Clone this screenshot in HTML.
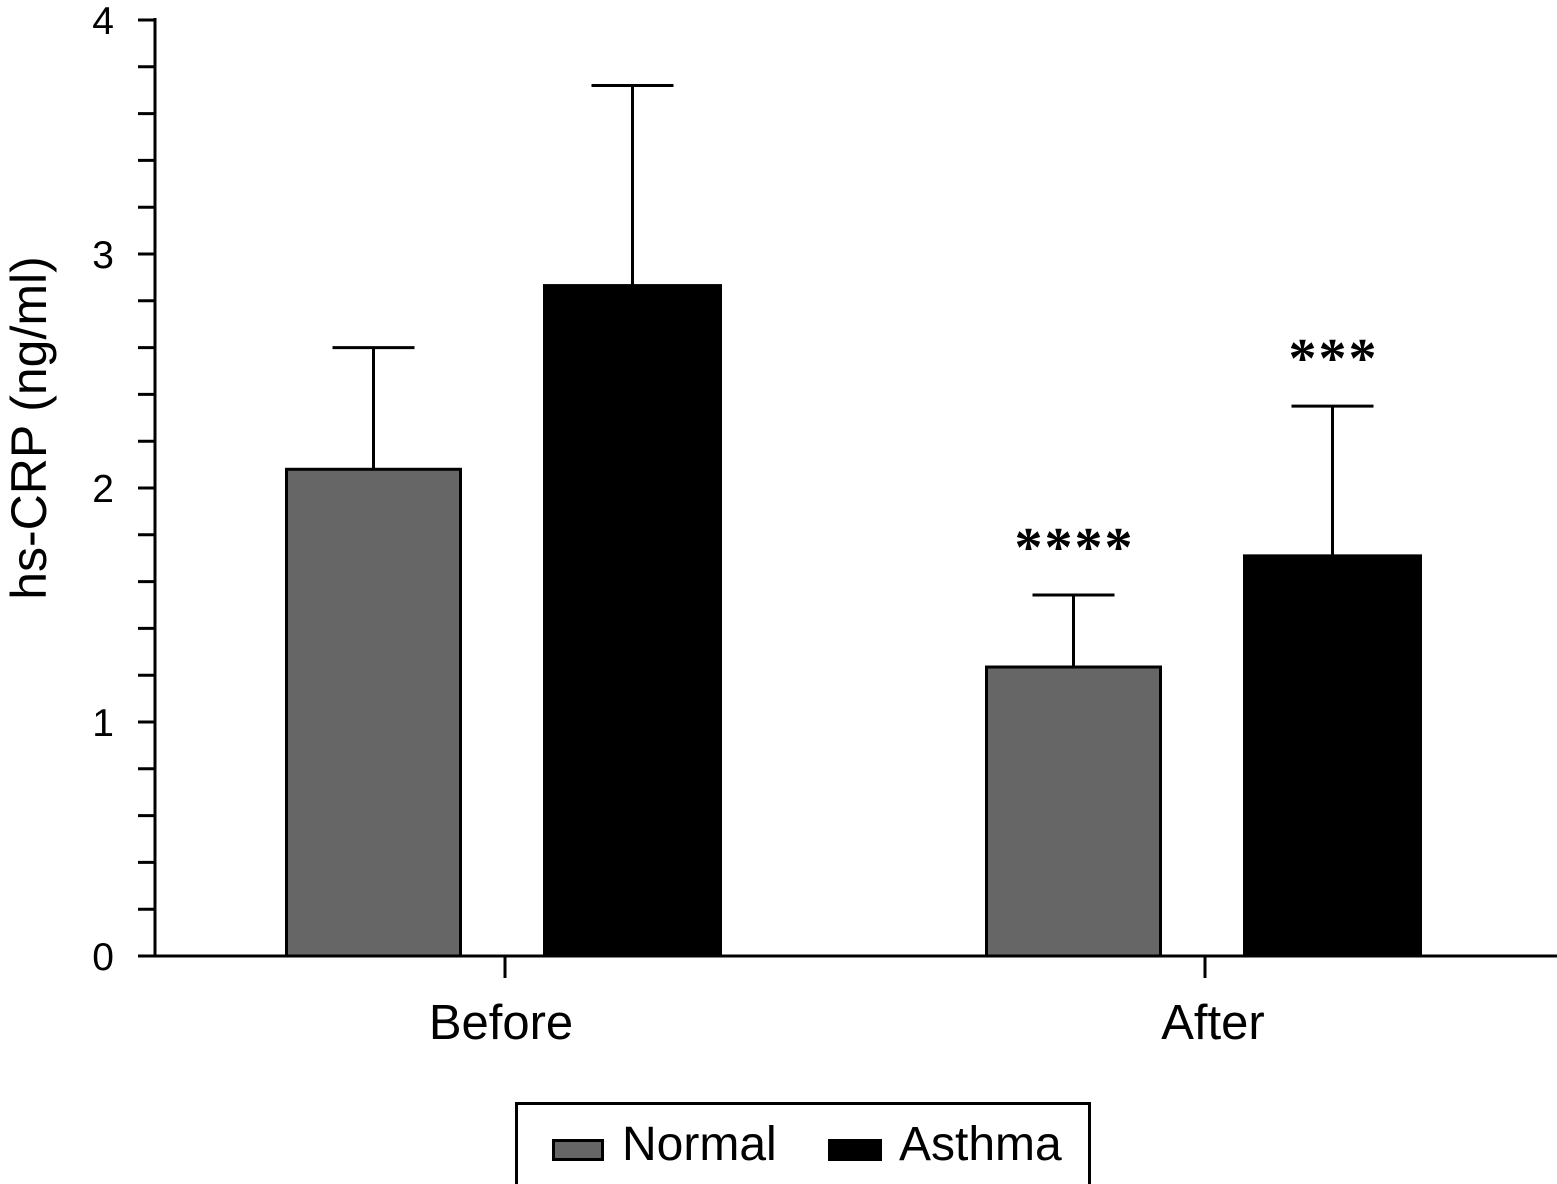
<!DOCTYPE html>
<html><head><meta charset="utf-8"><style>
html,body{margin:0;padding:0;background:#fff;}
svg{display:block;font-family:"Liberation Sans",Arial,sans-serif;}
</style></head><body>
<svg id="chart" width="1557" height="1184" viewBox="0 0 1557 1184" xmlns="http://www.w3.org/2000/svg"></svg>
<script>
const groups = ["Before", "After"];
const normalValues = [2.08, 1.235];
const normalErrors = [2.60, 1.543];
const asthmaValues = [2.865, 1.71];
const asthmaErrors = [3.72, 2.35];
const yTicks = [0, 1, 2, 3, 4];
const stars = [["", ""], ["****", "***"]];

const svg = document.getElementById('chart');
const NS = 'http://www.w3.org/2000/svg';
const y0 = 956, yTop = 20, yMax = 4;
const yScale = v => y0 - v / yMax * (y0 - yTop);
const groupCenters = [505, 1205];
const labelCenters = [501, 1213];
const normalX = c => c - 220;
const asthmaX = c => c + 38;
const normalW = 177, asthmaW = 179;

function el(tag, attrs, parent) {
  const e = document.createElementNS(NS, tag);
  for (const k in attrs) e.setAttribute(k, attrs[k]);
  (parent || svg).appendChild(e);
  return e;
}

const yAxis = el('line', {x1:155, y1:yTop-2, x2:155, y2:y0+1.5, stroke:'#000', 'stroke-width':3});


const xAxis = el('line', {x1:153.5, y1:y0, x2:1557, y2:y0, stroke:'#000', 'stroke-width':3});



for (let i = 0; i <= 20; i++) {
  const y = yScale(i * 0.2);
  const t = el('line', {x1:138, y1:y, x2:155, y2:y, stroke:'#000', 'stroke-width':3});
  
  
}
yTicks.forEach(v => {
  const t = el('text', {x:114, y:yScale(v)+14, 'text-anchor':'end', 'font-size':39});
  t.textContent = v;
  
  
});

const yt = el('text', {x:0, y:0, transform:'translate(46,428) rotate(-90)', 'text-anchor':'middle', 'font-size':50});
yt.textContent = 'hs-CRP (ng/ml)';



function errorBar(cx, top, err, name) {
  const g = el('g', {});
  
  
  el('line', {x1:cx, y1:yScale(err), x2:cx, y2:yScale(top), stroke:'#000', 'stroke-width':3}, g);
  el('line', {x1:cx-41, y1:yScale(err), x2:cx+41, y2:yScale(err), stroke:'#000', 'stroke-width':3}, g);
}

function starText(x, err, txt, name) {
  const s = el('text', {x:x+1, y:yScale(err)-29, 'text-anchor':'middle', 'font-size':56, 'font-weight':'bold', 'font-family':'Liberation Serif, serif', 'letter-spacing':2});
  s.textContent = txt;
  
  
}

groups.forEach((gname, i) => {
  const c = groupCenters[i];
  const tk = el('line', {x1:c, y1:y0, x2:c, y2:978, stroke:'#000', 'stroke-width':3});
  
  
  const lb = el('text', {x:labelCenters[i], y:1039, 'text-anchor':'middle', 'font-size':49});
  lb.textContent = gname;
  
  

  const nx = normalX(c);
  errorBar(nx + normalW/2, normalValues[i], normalErrors[i], 'error-bar-normal');
  const nb = el('rect', {x:nx+1.5, y:yScale(normalValues[i]), width:normalW-3, height:y0-yScale(normalValues[i]), fill:'#666', stroke:'#000', 'stroke-width':3});
  
  

  const ax = asthmaX(c);
  errorBar(ax + asthmaW/2, asthmaValues[i], asthmaErrors[i], 'error-bar-asthma');
  const ab = el('rect', {x:ax, y:yScale(asthmaValues[i])-1.5, width:asthmaW, height:y0-yScale(asthmaValues[i])+1.5, fill:'#000'});
  
  

  if (stars[i][0]) starText(nx + normalW/2, normalErrors[i], stars[i][0], 'significance-normal');
  if (stars[i][1]) starText(ax + asthmaW/2, asthmaErrors[i], stars[i][1], 'significance-asthma');
});
</script>
<svg style="position:absolute;left:0;top:0" width="1557" height="1184">
  <g>
    <rect x="516.5" y="1103.5" width="573" height="82" fill="#fff" stroke="#000" stroke-width="3"/>
    <g>
      <rect x="553.5" y="1140.5" width="49" height="19" fill="#666" stroke="#000" stroke-width="3"/>
      <text x="622" y="1160" font-size="48" font-family="Liberation Sans, Arial, sans-serif">Normal</text>
    </g>
    <g>
      <rect x="828" y="1139" width="54" height="22" fill="#000"/>
      <text x="899" y="1160" font-size="48" font-family="Liberation Sans, Arial, sans-serif">Asthma</text>
    </g>
  </g>
</svg>
</body></html>
